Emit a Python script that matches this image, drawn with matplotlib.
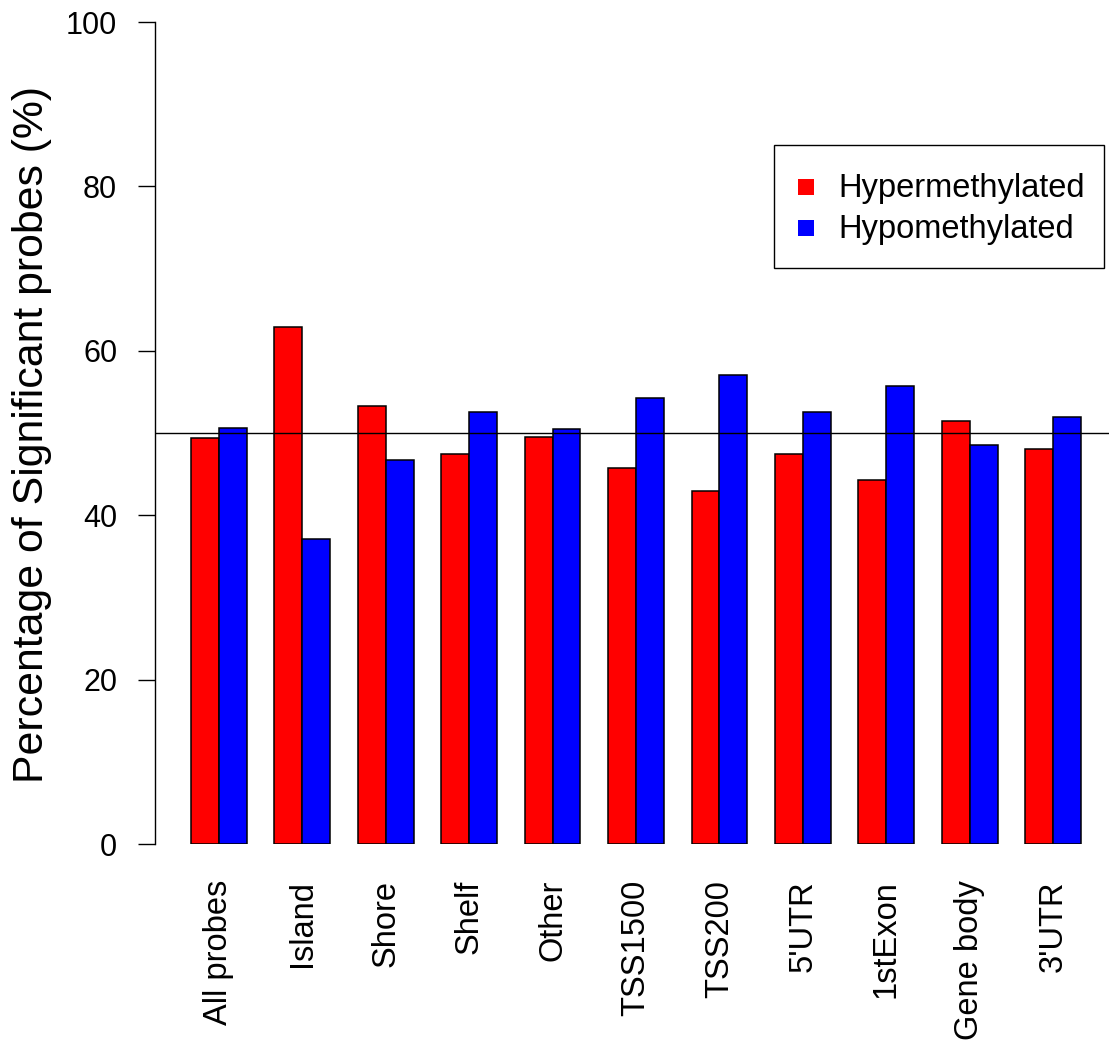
import matplotlib
matplotlib.use('Agg')
import matplotlib.pyplot as plt
from matplotlib.patches import Rectangle
import numpy as np

plt.rcParams['font.family'] = ['Liberation Sans', 'DejaVu Sans']

# percentage of significant probes per region
regions = ["All probes", "Island", "Shore", "Shelf", "Other", "TSS1500",
           "TSS200", "5'UTR", "1stExon", "Gene body", "3'UTR"]
hyper = [49.4, 62.9, 53.3, 47.5, 49.5, 45.8, 43.0, 47.4, 44.3, 51.4, 48.1]
hypo = [50.6, 37.1, 46.7, 52.5, 50.5, 54.2, 57.0, 52.6, 55.7, 48.6, 51.9]
series_names = ["Hypermethylated", "Hypomethylated"]
colors = ["#ff0000", "#0000ff"]
yticks = [0, 20, 40, 60, 80, 100]

W, H = 1109, 1041
fig = plt.figure(figsize=(W / 100, H / 100), dpi=100)

# barplot-style layout: bars of width 1, one gap between groups
ax = fig.add_axes([155.4 / W, 197 / H, 961.2 / W, 822 / H])
n = len(regions)
left = 1 + 3 * np.arange(n)
ax.bar(left + 0.5, hyper, width=1, color=colors[0], edgecolor='black', linewidth=1.1)
ax.bar(left + 1.5, hypo, width=1, color=colors[1], edgecolor='black', linewidth=1.1)
ax.axhline(50, color='black', linewidth=1.0)

ax.set_xlim(-0.28, 34.28)
ax.set_ylim(0, 100)
for s in ['top', 'right', 'bottom']:
    ax.spines[s].set_visible(False)
ax.spines['left'].set_linewidth(1.0)

ax.set_yticks(yticks)
ax.tick_params(axis='y', length=12.5, width=1.0, pad=15, labelsize=22)
ax.set_xticks(left + 1)
ax.set_xticklabels(regions, rotation=90, fontsize=23.5)
ax.tick_params(axis='x', length=0, pad=26)

fig.text(32 / W, 1 - 434 / H, "Percentage of Significant probes (%)",
         rotation=90, ha='center', va='center', fontsize=30.8)

# legend box
fig.patches.append(Rectangle((774 / W, 1 - 268 / H), (1104 - 774) / W, (268 - 145) / H,
                             transform=fig.transFigure, facecolor='white',
                             edgecolor='black', linewidth=1.0))
for i, (name, c) in enumerate(zip(series_names, colors)):
    y0 = 179 + 41 * i
    fig.patches.append(Rectangle((798 / W, 1 - (y0 + 16) / H), 16 / W, 16 / H,
                                 transform=fig.transFigure, facecolor=c, edgecolor='none'))
    fig.text(838 / W, 1 - (y0 + 18) / H, name, ha='left', va='baseline', fontsize=23.5)

fig.savefig('out.png', dpi=100)
